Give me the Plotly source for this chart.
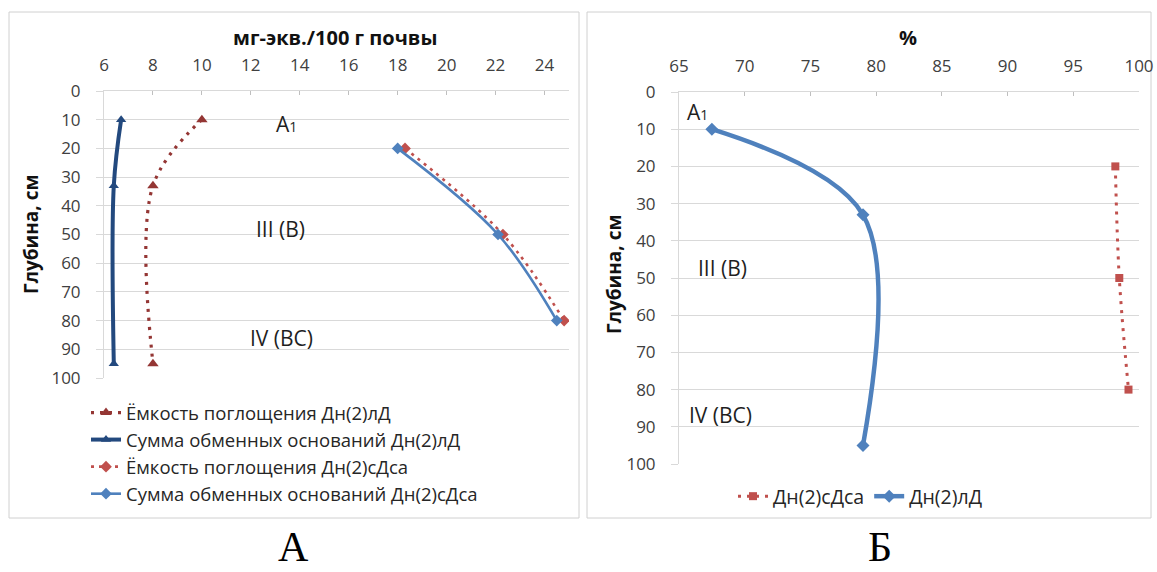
import plotly.graph_objects as go

W, H = 1157, 572

# Depth of sampled horizons, cm
depth_ld = [10, 33, 95]          # Дн(2)лД profile
depth_sdsa = [20, 50, 80]        # Дн(2)сДса profile

# Panel A, мг-экв./100 г почвы
cec_ld = [10.0, 8.0, 8.0]        # Ёмкость поглощения Дн(2)лД
sum_ld = [6.7, 6.4, 6.4]         # Сумма обменных оснований Дн(2)лД
cec_sdsa = [18.3, 22.3, 24.8]    # Ёмкость поглощения Дн(2)сДса
sum_sdsa = [18.0, 22.1, 24.5]    # Сумма обменных оснований Дн(2)сДса

# Panel Б, %
sat_sdsa = [98.2, 98.5, 99.2]    # Дн(2)сДса
sat_ld = [67.5, 79.0, 79.0]      # Дн(2)лД

names_a = ["Ёмкость поглощения Дн(2)лД", "Сумма обменных оснований Дн(2)лД",
           "Ёмкость поглощения Дн(2)сДса", "Сумма обменных оснований Дн(2)сДса"]
names_b = ["Дн(2)сДса", "Дн(2)лД"]

x_ticks_a = [6, 8, 10, 12, 14, 16, 18, 20, 22, 24]
x_ticks_b = [65, 70, 75, 80, 85, 90, 95, 100]
y_ticks = [0, 10, 20, 30, 40, 50, 60, 70, 80, 90, 100]

FONT = "Open Sans"
TICK_COLOR = "#404040"
GRID = "#D9D9D9"


def px(x):
    return x / W


def py(y):
    return 1 - y / H


fig = go.Figure()

# ---- panel A ----
fig.add_trace(go.Scatter(
    x=cec_ld, y=depth_ld, name=names_a[0], xaxis="x", yaxis="y", legend="legend",
    mode="lines+markers", line=dict(color="#943634", width=3.2, dash="3px,6px", shape="spline"),
    marker=dict(symbol="triangle-up", size=10, color="#943634")))
fig.add_trace(go.Scatter(
    x=sum_ld, y=depth_ld, name=names_a[1], xaxis="x", yaxis="y", legend="legend",
    mode="lines+markers", line=dict(color="#23497E", width=4, shape="spline"),
    marker=dict(symbol="triangle-up", size=9, color="#23497E")))
fig.add_trace(go.Scatter(
    x=cec_sdsa, y=depth_sdsa, name=names_a[2], xaxis="x", yaxis="y", legend="legend",
    mode="lines+markers", line=dict(color="#C0504D", width=2.6, dash="3px,5px", shape="spline"),
    marker=dict(symbol="diamond", size=9, color="#C0504D")))
fig.add_trace(go.Scatter(
    x=sum_sdsa, y=depth_sdsa, name=names_a[3], xaxis="x", yaxis="y", legend="legend",
    mode="lines+markers", line=dict(color="#4F81BD", width=2.6, shape="spline"),
    marker=dict(symbol="diamond", size=9, color="#4F81BD")))

# ---- panel Б ----
fig.add_trace(go.Scatter(
    x=sat_sdsa, y=depth_sdsa, name=names_b[0], xaxis="x2", yaxis="y2", legend="legend2",
    mode="lines+markers", line=dict(color="#C0504D", width=3, dash="3px,6px", shape="spline"),
    marker=dict(symbol="square", size=8, color="#C0504D")))
fig.add_trace(go.Scatter(
    x=sat_ld, y=depth_ld, name=names_b[1], xaxis="x2", yaxis="y2", legend="legend2",
    mode="lines+markers", line=dict(color="#4F81BD", width=4.5, shape="spline", smoothing=1.0),
    marker=dict(symbol="diamond", size=10, color="#4F81BD")))

tickfont = dict(family=FONT, size=17, color=TICK_COLOR)

common_x = dict(side="top", showgrid=False, showline=True, linecolor=GRID, linewidth=1,
                ticks="inside", ticklen=4, tickcolor="#BFBFBF", tickfont=tickfont,
                ticklabelstandoff=12, zeroline=False, fixedrange=True, automargin=False)
common_y = dict(range=[100, 0], tickvals=y_ticks, showgrid=True, gridcolor=GRID, gridwidth=1,
                showline=True, linecolor=GRID, linewidth=1, ticks="outside", ticklen=7,
                tickcolor=GRID, tickfont=tickfont, ticklabelstandoff=12, zeroline=False,
                fixedrange=True, automargin=False)

legend_font = dict(family=FONT, size=18.5, color="#262626")

fig.update_layout(
    width=W, height=H, margin=dict(l=0, r=0, t=0, b=0, autoexpand=False),
    paper_bgcolor="white", plot_bgcolor="white",
    font=dict(family=FONT, color="#222222"),
    xaxis=dict(common_x, domain=[px(104), px(569)], range=[6, 25], tickvals=x_ticks_a,
               anchor="y"),
    yaxis=dict(common_y, domain=[py(378), py(91)], anchor="x"),
    xaxis2=dict(common_x, domain=[px(679), px(1139)], range=[65, 100], tickvals=x_ticks_b,
                anchor="y2"),
    yaxis2=dict(common_y, domain=[py(464), py(92)], anchor="x2"),
    legend=dict(x=px(86), y=py(394), xanchor="left", yanchor="top", orientation="v",
                font=legend_font, bgcolor="rgba(0,0,0,0)",
                itemclick=False, itemdoubleclick=False),
    legend2=dict(x=px(733), y=py(477), xanchor="left", yanchor="top", orientation="h",
                 font=dict(legend_font, size=19.5), bgcolor="rgba(0,0,0,0)",
                 itemclick=False, itemdoubleclick=False),
    showlegend=True,
)

# chart area frames
for x0, x1 in [(9, 579), (587, 1151)]:
    fig.add_shape(type="rect", xref="paper", yref="paper", x0=px(x0), x1=px(x1),
                  y0=py(518), y1=py(12), line=dict(color="#D0D0D0", width=1), layer="below")

ann = []


def label(x, y, text, size=18, bold=False, angle=0, family=FONT, color="#1F1F1F",
          yanchor="middle"):
    ann.append(dict(x=px(x), y=py(y), xref="paper", yref="paper", text=f"<b>{text}</b>" if bold else text,
                    showarrow=False, xanchor="center", yanchor=yanchor, textangle=angle,
                    font=dict(family=family, size=size, color=color)))


# axis titles
label(335, 37, "мг-экв./100 г почвы", size=20, bold=True, color="#111111")
label(908, 37, "%", size=20, bold=True, color="#111111")
label(31, 235, "Глубина, см", size=19, bold=True, angle=-90, color="#111111")
label(614, 275, "Глубина, см", size=19, bold=True, angle=-90, color="#111111")

# soil horizons
sub1 = "A<span style='font-size:14px'>1</span>"
label(286, 124, sub1, size=21)
label(280, 229, "III (B)", size=21)
label(281, 338, "IV (BC)", size=21)
label(697, 112, sub1, size=21)
label(722, 268, "III (B)", size=21)
label(720, 415, "IV (BC)", size=21)

# panel letters
label(293, 572, "А", size=42, family="Liberation Serif", color="#000000", yanchor="bottom")
label(880, 572, "Б", size=42, family="Liberation Serif", color="#000000", yanchor="bottom")

fig.update_layout(annotations=ann)

fig.write_html("out.html")
